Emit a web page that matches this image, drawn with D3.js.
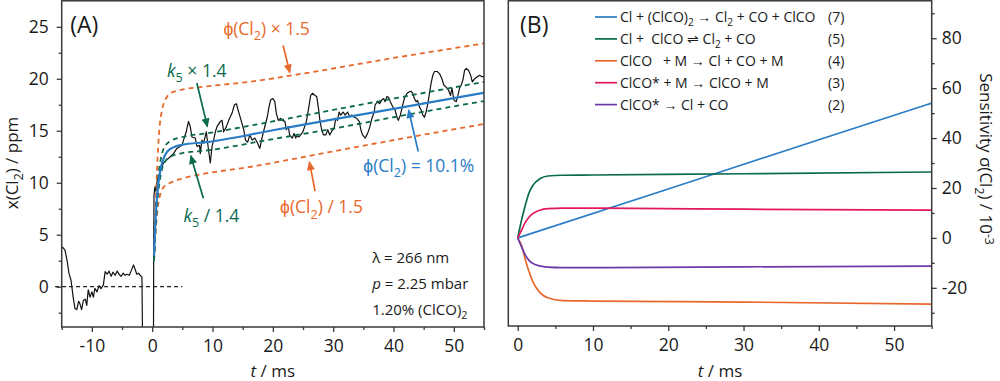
<!DOCTYPE html>
<html><head><meta charset="utf-8">
<script src="https://cdn.jsdelivr.net/npm/d3@7"></script>
<style>
body{margin:0;background:#fff;}
svg{display:block;font-family:"Open Sans",sans-serif;}
text{white-space:pre;}
</style></head><body>
<svg id="c" width="1000" height="381"></svg>
<script>
// ---------------- DATA ----------------
// Panel A: measured trace x(Cl2) / ppm vs t / ms
const traceT = [-15.0,-14.7,-14.45,-14.1,-13.8,-13.45,-13.1,-12.8,-12.5,-12.2,-12.0,-11.7,-11.4,-11.1,-10.85,-10.6,-10.3,-10.0,-9.75,-9.5,-9.15,-8.8,-8.5,-8.1,-7.8,-7.45,-7.15,-6.8,-6.5,-6.15,-5.8,-5.5,-5.15,-4.8,-4.5,-4.15,-3.8,-3.5,-3.1,-2.85,-2.55,-2.25,-2.0,-1.7,-1.55,
 0.2,0.25,0.3,0.45,0.6,0.77,1.03,1.4,1.86,2.43,2.98,3.53,4.09,4.93,5.19,5.64,6.02,6.31,6.59,7.14,7.42,7.85,7.97,8.25,8.52,8.97,9.35,9.63,9.92,10.18,10.47,10.75,11.3,11.58,11.85,12.3,12.68,13.24,13.63,13.96,14.34,14.74,15.18,15.46,15.84,16.17,16.57,17.0,17.4,17.84,18.24,18.79,19.07,19.33,19.62,20.0,20.33,20.57,20.9,21.28,21.6,22.0,22.23,22.56,22.78,23.23,23.5,23.78,24.0,24.33,24.6,24.99,25.32,25.56,25.89,26.27,26.56,26.99,27.27,27.55,27.82,28.1,28.39,28.77,29.1,29.43,29.8,30.15,30.43,30.72,30.98,31.25,31.65,31.98,32.38,32.7,33.1,33.48,33.9,34.31,34.59,34.87,35.31,35.71,36.09,36.42,36.81,36.95,37.37,37.7,38.04,38.37,38.6,38.92,39.2,39.47,39.87,40.25,40.58,40.8,41.13,41.53,41.8,42.25,42.63,42.9,43.2,43.46,43.75,44.0,44.3,44.58,44.86,45.13,45.4,45.69,45.96,46.24,46.52,46.79,47.24,47.62,48.02,48.35,48.7,49.12,49.45,49.68,50.02,50.4,50.68,50.95,51.23,51.51,51.78,52.06,52.45,52.78,53.06,53.44,53.89,54.28,54.67,55.0];
const traceX = [3.85,3.7,3.5,2.5,1.3,0.6,-1.0,-2.1,-2.2,-1.4,-1.6,-2.2,-1.3,-1.2,-1.8,-0.3,-1.0,-0.5,-1.0,-0.15,-0.5,0.1,-0.2,0.15,1.45,1.2,1.5,1.0,1.4,1.1,1.5,1.2,1.0,1.3,1.1,1.2,1.1,1.5,2.1,1.7,1.2,1.3,1.1,0.95,-8,
 -8,3,8.8,9.6,9.2,10.0,10.6,11.2,11.9,12.2,12.5,12.8,13.3,13.6,14.1,14.9,15.9,15.4,14.4,14.3,13.5,13.6,12.8,14.1,13.8,14.9,13.1,11.9,13.5,14.1,14.9,15.4,15.9,16.0,14.9,15.4,16.0,16.7,17.5,17.6,16.8,16.0,15.1,14.1,13.9,14.6,14.1,14.3,13.9,13.3,14.4,15.7,16.3,17.2,17.95,18.1,17.8,16.7,16.0,16.2,16.0,15.9,15.1,15.4,14.6,14.3,14.75,14.3,14.5,14.4,14.6,14.9,15.5,15.9,17.0,18.4,18.6,18.4,18.3,17.2,15.9,15.1,14.6,14.6,15.1,14.6,15.0,15.2,16.2,16.0,16.8,16.5,16.8,16.5,16.8,16.4,16.5,16.3,16.2,15.9,15.1,14.6,14.3,14.75,15.4,16.2,16.8,17.5,17.8,17.6,17.95,18.1,17.8,18.3,18.2,17.8,17.3,17.0,16.3,16.0,16.5,17.5,18.1,18.6,18.75,18.8,18.6,18.1,17.8,17.9,17.3,17.0,16.5,16.3,16.8,17.6,18.6,19.6,20.35,20.7,20.7,20.5,20.0,19.4,19.2,18.9,18.4,19.1,17.95,17.8,18.4,19.1,19.4,19.9,20.8,21.0,20.8,20.35,19.7,20.0,20.2,20.35,20.2,20.2];

// Panel A: model curves
const fitBlueT = [0.3,0.6,1.0,1.5,2.0,2.5,3.5,5,9,20,30,40,55];
const fitBlue  = [3.0,7.0,9.8,11.6,12.5,13.0,13.4,13.65,13.9,15.05,16.1,17.1,18.65];
const phiUpT = [0.3,0.6,0.9,1.2,1.6,2.2,3,4.5,8,16,25,40,55];
const phiUp  = [2.5,8,12.5,15.2,16.9,18.0,18.6,18.9,19.2,19.7,20.5,22.0,23.4];
const phiLoT = [0.3,0.6,0.9,1.3,1.8,3,5,8,16,28,40,55];
const phiLo  = [2.5,5.5,7.5,8.8,9.5,10.0,10.4,10.8,11.5,12.8,14.1,15.65];
const k5UpT = [0.3,0.6,1.0,1.5,2.0,3,5,9,20,30,40,55];
const k5Up  = [2.5,7,10.5,12.5,13.4,14.0,14.4,14.75,15.9,17.0,18.1,19.7];
const k5LoT = [0.3,0.6,1.0,1.5,2.0,3,5,9,20,30,40,55];
const k5Lo  = [2.5,6,9,11,11.9,12.5,12.85,13.1,14.2,15.2,16.3,17.86];
const zeroLineT = [-16.1, 5];

// Panel A ticks
const aXTicks = [-10,0,10,20,30,40,50];
const aXMinor = [-15,-5,5,15,25,35,45,55];
const aYTicks = [0,5,10,15,20,25];
const aYMinor = [-2.5,2.5,7.5,12.5,17.5,22.5];

// Panel B: sensitivity curves (x 10^-3)
const sensLabels = ["Cl + (ClCO)_{2} → Cl_{2} + CO + ClCO","Cl +  ClCO ⇌ Cl_{2} + CO","ClCO   + M → Cl + CO + M","ClCO* + M → ClCO + M","ClCO* → Cl + CO"];
const sensNums = ["(7)","(5)","(4)","(3)","(2)"];
const sensBlueT = [0,20,40,55];
const sensBlue  = [0,19.6,39.3,54];
const sensT = [0,0.5,1,1.5,2,3,4,6,10,30,55];
const sensGreen  = [0,7,13,18,21,23.8,24.8,25.1,25.2,25.7,26.4];
const sensOrange = [0,-3,-8.5,-13.5,-17.5,-22,-24,-25.1,-25.3,-25.7,-26.5];
const sensPink   = [0,3,6.2,8.3,9.7,11.2,11.7,11.9,11.9,11.5,11.1];
const sensPurple = [0,-3.5,-6.8,-9,-10.2,-11.3,-11.7,-11.9,-11.9,-11.6,-11.3];

const bXTicks = [0,10,20,30,40,50];
const bXMinor = [5,15,25,35,45,55];
const bYTicks = [-20,0,20,40,60,80];
const bYMinor = [-30,-10,10,30,50,70,90];

// ---------------- STYLE ----------------
const C = {blue:"#2a7cc6", green:"#0b6a4e", orange:"#e8682c", pink:"#e3175f", purple:"#6a3aa8", axis:"#3a3a3a", text:"#1a1a1a"};

const svg = d3.select("#c");
const A = {l:61.7, r:484, t:0.8, b:327};
const B = {l:508.3, r:931.7, t:0.8, b:326};

const xA = d3.scaleLinear().domain([-15,55]).range([A.l,A.r]);
const yA = d3.scaleLinear().domain([-3.875,27.5]).range([A.b,A.t]);
const xB = d3.scaleLinear().domain([-1.25,55]).range([B.l,B.r]);
const yB = d3.scaleLinear().domain([-35.3,95]).range([B.b,B.t]);

// rich text helper: _{sub} ^{sup} ~{italic}
function rich(sel, str, fs, supK){
  const re = /(_\{[^}]*\}|\^\{[^}]*\}|~\{[^}]*\}|[^_^~]+)/g;
  let m, shift = 0;
  while((m = re.exec(str))){
    let s = m[0], kind = null;
    if(s.startsWith("_{")){kind="sub"; s=s.slice(2,-1);}
    else if(s.startsWith("^{")){kind="sup"; s=s.slice(2,-1);}
    else if(s.startsWith("~{")){kind="it"; s=s.slice(2,-1);}
    const target = kind==="sub" ? fs*0.3 : kind==="sup" ? -fs*(supK||0.4) : 0;
    const ts = sel.append("tspan").text(s);
    if(target-shift !== 0) ts.attr("dy", target-shift);
    if(kind==="sub"||kind==="sup") ts.attr("font-size", fs*0.72);
    if(kind==="it") ts.attr("font-style","italic");
    shift = target;
  }
  return sel;
}

// defs
const defs = svg.append("defs");
defs.append("clipPath").attr("id","clipA").append("rect").attr("x",A.l).attr("y",A.t).attr("width",A.r-A.l).attr("height",A.b-A.t);
defs.append("clipPath").attr("id","clipB").append("rect").attr("x",B.l).attr("y",B.t).attr("width",B.r-B.l).attr("height",B.b-B.t);
["orange","green","blue"].forEach(k=>{
  defs.append("marker").attr("id","ar-"+k).attr("viewBox","0 0 10 10").attr("refX",9).attr("refY",5)
    .attr("markerWidth",10).attr("markerHeight",9).attr("markerUnits","userSpaceOnUse").attr("orient","auto")
    .append("path").attr("d","M0,0.5L10,5L0,9.5Z").attr("fill",C[k]);
});

function zip(T,V){return T.map((t,i)=>[t,V[i]]);}
const fmt = d=>String(d);

// ---------------- PANEL A ----------------
const gA = svg.append("g");
const lineA = d3.line().x(d=>xA(d[0])).y(d=>yA(d[1]));
const smoothA = d3.line().x(d=>xA(d[0])).y(d=>yA(d[1])).curve(d3.curveMonotoneX);
const plotA = gA.append("g").attr("clip-path","url(#clipA)");

gA.append("path").attr("d", lineA(zeroLineT.map(t=>[t,0]))).attr("fill","none")
  .attr("stroke","#222").attr("stroke-width",1.3).attr("stroke-dasharray","4,3");

plotA.append("path").attr("d", lineA(zip(traceT,traceX))).attr("fill","none").attr("stroke","#111").attr("stroke-width",1.2).attr("stroke-linejoin","round");
[[phiUpT,phiUp,C.orange],[phiLoT,phiLo,C.orange],[k5UpT,k5Up,C.green],[k5LoT,k5Lo,C.green]].forEach(([T,V,col])=>{
  plotA.append("path").attr("d", smoothA(zip(T,V))).attr("fill","none").attr("stroke",col).attr("stroke-width",1.8).attr("stroke-dasharray","5,4");
});
plotA.append("path").attr("d", smoothA(zip(fitBlueT,fitBlue))).attr("fill","none").attr("stroke",C.blue).attr("stroke-width",2.2);

gA.append("rect").attr("x",A.l).attr("y",A.t).attr("width",A.r-A.l).attr("height",A.b-A.t).attr("fill","none").attr("stroke",C.axis).attr("stroke-width",1.5);

gA.append("g").attr("transform",`translate(0,${A.b})`)
  .call(d3.axisBottom(xA).tickValues(aXTicks).tickSize(5).tickPadding(8).tickFormat(fmt));
gA.append("g").attr("transform",`translate(0,${A.b})`).call(d3.axisBottom(xA).tickValues(aXMinor).tickSize(3).tickFormat(""));
gA.append("g").attr("transform",`translate(${A.l},0)`)
  .call(d3.axisLeft(yA).tickValues(aYTicks).tickSize(5).tickPadding(8).tickFormat(fmt));
gA.append("g").attr("transform",`translate(${A.l},0)`).call(d3.axisLeft(yA).tickValues(aYMinor).tickSize(3).tickFormat(""));

// ---------------- PANEL B ----------------
const gB = svg.append("g");
const smoothB = d3.line().x(d=>xB(d[0])).y(d=>yB(d[1])).curve(d3.curveMonotoneX);
const plotB = gB.append("g").attr("clip-path","url(#clipB)");
[[sensBlueT,sensBlue,C.blue],[sensT,sensGreen,C.green],[sensT,sensOrange,C.orange],[sensT,sensPink,C.pink],[sensT,sensPurple,C.purple]].forEach(([T,V,col])=>{
  plotB.append("path").attr("d", smoothB(zip(T,V))).attr("fill","none").attr("stroke",col).attr("stroke-width",1.7);
});
gB.append("rect").attr("x",B.l).attr("y",B.t).attr("width",B.r-B.l).attr("height",B.b-B.t).attr("fill","none").attr("stroke",C.axis).attr("stroke-width",1.5);
gB.append("g").attr("transform",`translate(0,${B.b})`)
  .call(d3.axisBottom(xB).tickValues(bXTicks).tickSize(5).tickPadding(8).tickFormat(fmt));
gB.append("g").attr("transform",`translate(0,${B.b})`).call(d3.axisBottom(xB).tickValues(bXMinor).tickSize(3).tickFormat(""));
gB.append("g").attr("transform",`translate(${B.r},0)`)
  .call(d3.axisRight(yB).tickValues(bYTicks).tickSize(5).tickPadding(5).tickFormat(fmt));
gB.append("g").attr("transform",`translate(${B.r},0)`).call(d3.axisRight(yB).tickValues(bYMinor).tickSize(3).tickFormat(""));

svg.selectAll(".domain").remove();
svg.selectAll(".tick line").attr("stroke",C.axis).attr("stroke-width",1.3);
svg.selectAll(".tick text").attr("font-family","'Open Sans',sans-serif").attr("font-size",17.5).attr("fill",C.text);

// ---------------- TEXT ----------------
const FS = 17;
rich(svg.append("text").attr("transform","translate(18,163) rotate(-90)").attr("text-anchor","middle").attr("font-size",FS).attr("fill",C.text), "x(Cl_{2}) / ppm", FS);
rich(svg.append("text").attr("x",(A.l+A.r)/2).attr("y",377).attr("text-anchor","middle").attr("font-size",FS).attr("fill",C.text), "~{t} / ms", FS);
rich(svg.append("text").attr("x",(B.l+B.r)/2).attr("y",377).attr("text-anchor","middle").attr("font-size",FS).attr("fill",C.text), "~{t} / ms", FS);
rich(svg.append("text").attr("transform","translate(980,159) rotate(90)").attr("text-anchor","middle").attr("font-size",FS).attr("fill",C.text), "Sensitivity σ(Cl_{2}) / 10^{-3}", FS, 0.3);

svg.append("text").attr("x",xA(-13.6)).attr("y",yA(24.4)).attr("font-size",23).attr("fill",C.text).text("(A)");
svg.append("text").attr("x",xB(0.31)).attr("y",yB(81.9)).attr("font-size",23).attr("fill",C.text).text("(B)");

const AFS = 17.5;
const annText = [
  {s:"ϕ(Cl_{2}) × 1.5", t:11.8, v:24.2, c:"orange"},
  {s:"~{k}_{5} × 1.4", t:2.46, v:20.2, c:"green"},
  {s:"~{k}_{5} / 1.4", t:5.17, v:6.25, c:"green"},
  {s:"ϕ(Cl_{2}) = 10.1%", t:35.0, v:11.06, c:"blue"},
  {s:"ϕ(Cl_{2}) / 1.5", t:21.2, v:7.06, c:"orange"}
];
annText.forEach(a=>{
  rich(svg.append("text").attr("x",xA(a.t)).attr("y",yA(a.v)).attr("font-size",AFS).attr("fill",C[a.c]), a.s, AFS);
});
const annArrows = [
  {t0:21.7, v0:23.2, t1:22.8, v1:20.6, c:"orange"},
  {t0:7.4, v0:19.6, t1:9.15, v1:15.4, c:"green"},
  {t0:8.48, v0:8.5, t1:6.39, v1:12.6, c:"green"},
  {t0:44.1, v0:13.0, t1:42.5, v1:17.0, c:"blue"},
  {t0:27.0, v0:9.2, t1:26.06, v1:12.0, c:"orange"}
];
annArrows.forEach(a=>{
  svg.append("line").attr("x1",xA(a.t0)).attr("y1",yA(a.v0)).attr("x2",xA(a.t1)).attr("y2",yA(a.v1))
    .attr("stroke",C[a.c]).attr("stroke-width",1.7).attr("marker-end",`url(#ar-${a.c})`);
});
const infoText = ["λ = 266 nm","~{p} = 2.25 mbar","1.20% (ClCO)_{2}"];
const infoV = [2.28,-0.22,-2.72];
infoText.forEach((s,i)=>{
  rich(svg.append("text").attr("x",xA(36.46)).attr("y",yA(infoV[i])).attr("font-size",15).attr("fill",C.text), s, 15);
});

const legCols = [C.blue,C.green,C.orange,C.pink,C.purple];
const LFS = 14;
sensLabels.forEach((s,i)=>{
  const y = 17 + i*21.9;
  svg.append("line").attr("x1",595).attr("x2",617).attr("y1",y).attr("y2",y).attr("stroke",legCols[i]).attr("stroke-width",1.7);
  rich(svg.append("text").attr("x",620).attr("y",y+5).attr("font-size",LFS).attr("fill",C.text), s, LFS);
  svg.append("text").attr("x",828).attr("y",y+5).attr("font-size",LFS).attr("fill",C.text).text(sensNums[i]);
});
</script>
</body></html>
